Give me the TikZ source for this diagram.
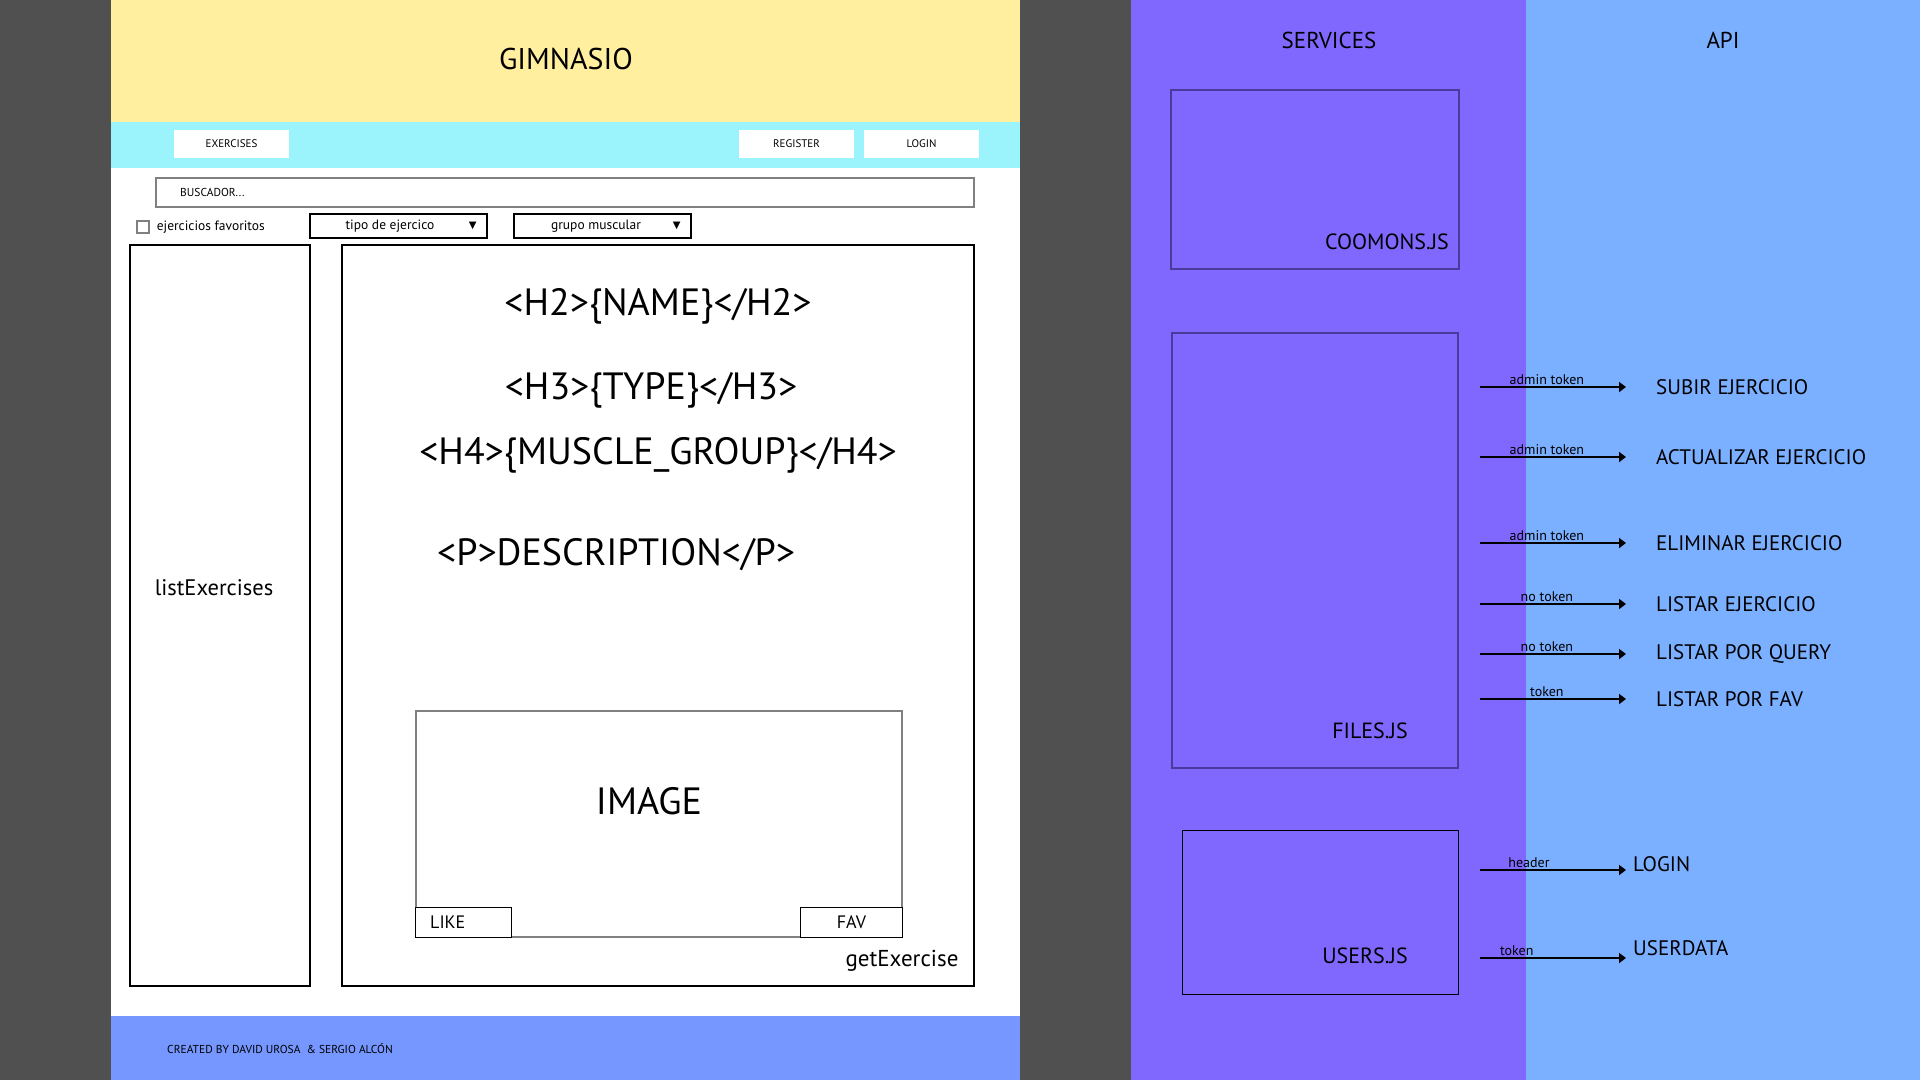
\documentclass[tikz,border=0pt]{standalone}
\usepackage{fontspec}
\setmainfont{PT Sans}
\newfontfamily\symfont{DejaVu Sans}
\usetikzlibrary{arrows.meta,positioning}
\definecolor{bggray}{HTML}{505050}
\definecolor{headyellow}{HTML}{FFEF9E}
\definecolor{navcyan}{HTML}{9BF4FC}
\definecolor{footblue}{HTML}{7597FF}
\definecolor{servpurple}{HTML}{8068FF}
\definecolor{apiblue}{HTML}{7BAFFF}
\definecolor{boxpurple}{HTML}{4A3A9C}
\tikzset{
  navbtn/.style={fill=white,minimum width=115pt,minimum height=28pt,inner sep=0pt,font=\fontsize{11}{13}\selectfont},
  frame/.style={draw=black,line width=1.2pt,inner sep=0pt},
  drop/.style={draw=black,line width=1.2pt,minimum width=177pt,minimum height=24pt,inner sep=0pt},
  small/.style={font=\fontsize{13.5}{16}\selectfont,inner sep=0pt},
  big/.style={font=\fontsize{38}{44}\selectfont},
  servbox/.style={draw=boxpurple,line width=1.2pt,inner sep=0pt},
  filename/.style={font=\fontsize{22}{26}\selectfont},
  apilabel/.style={anchor=west,font=\fontsize{21}{25}\selectfont,inner sep=0pt},
  tok/.style={font=\fontsize{14}{16}\selectfont,inner sep=1pt},
  flow/.style={-{Triangle[length=7pt,width=10pt]},line width=2pt},
}
\begin{document}
\begin{tikzpicture}[x=1pt,y=-1pt]
\useasboundingbox (0,0) rectangle (1920,1080);
\fill[bggray] (0,0) rectangle (1920,1080);
\fill[white] (111,0) rectangle (1020,1080);
\fill[headyellow] (111,0) rectangle (1020,122);
\fill[navcyan] (111,122) rectangle (1020,168);
\fill[footblue] (111,1016) rectangle (1020,1080);
\fill[servpurple] (1131,0) rectangle (1526,1080);
\fill[apiblue] (1526,0) rectangle (1920,1080);

\begin{scope}
\node[font=\fontsize{30}{36}\selectfont] (title) at (566,59) {GIMNASIO};
\foreach \x/\t/\n in {231.5/EXERCISES/exer,796.5/REGISTER/reg,921.5/LOGIN/log}
  \node[navbtn] (\n) at (\x,144) {\t};
\node[draw=gray,line width=2pt,minimum width=818pt,minimum height=29pt,inner sep=0pt] (search) at (565,192.5) {};
\node[anchor=west,font=\fontsize{11.5}{13}\selectfont,inner sep=0pt] (searchtxt) at ([xshift=25pt]search.west) {BUSCADOR...};
\node[draw=gray,line width=1.2pt,minimum size=12pt,inner sep=0pt] (favbox) at (143,227) {};
\node[small,anchor=west] (favtxt) at ([xshift=7pt]favbox.east) {ejercicios favoritos};
\foreach \x/\t/\n/\s in {398.5/tipo de ejercico/tipo/-8.5,602.5/grupo muscular/grupo/-6.5} {
  \node[drop] (\n) at (\x,226) {};
  \node[small] (\n txt) at ([xshift=\s pt]\n.center) {\t};
  \node[font=\symfont\fontsize{10}{12}\selectfont,inner sep=0pt] (\n arr) at ([xshift=-15pt]\n.east) {▼};
}
\node[frame,minimum width=180pt,minimum height=741pt] (list) at (220,615.5) {};
\node[font=\fontsize{22.5}{26}\selectfont] (listtxt) at (214,588) {listExercises};
\node[frame,minimum width=632pt,minimum height=741pt] (detail) at (658,615.5) {};
\node[big] (hname) at (658,306) {<H2>\{NAME\}</H2>};
\node[big] (htype) at (651,390) {<H3>\{TYPE\}</H3>};
\node[big] (hgroup) at (658,455) {<H4>\{MUSCLE\_GROUP\}</H4>};
\node[big] (hdesc) at (616,555) {<P>DESCRIPTION</P>};
\node[draw=gray,line width=2pt,minimum width=486pt,minimum height=226pt,inner sep=0pt] (img) at (659,824) {};
\node[font=\fontsize{38}{44}\selectfont] (imgtxt) at (649,801) {IMAGE};
\node[frame,fill=white,minimum width=96pt,minimum height=30pt,anchor=south west] (like) at (img.south west) {};
\node[anchor=west,font=\fontsize{18}{21}\selectfont,inner sep=0pt] (liketxt) at ([xshift=15pt]like.west) {LIKE};
\node[frame,fill=white,minimum width=102pt,minimum height=30pt,anchor=south east,font=\fontsize{18}{21}\selectfont] (fav) at (img.south east) {FAV};
\node[font=\fontsize{23}{27}\selectfont] (gettxt) at (902,961) {getExercise};
\node[anchor=west,font=\fontsize{11.5}{13}\selectfont,inner sep=0pt] (credits) at (167,1049) {CREATED BY DAVID UROSA \ \& SERGIO ALCÓN};
\end{scope}

\begin{scope}
\node[font=\fontsize{23}{27}\selectfont] (serv) at (1329,40) {SERVICES};
\node[font=\fontsize{23}{27}\selectfont] (api) at (1723,40) {API};
\node[servbox,minimum width=288pt,minimum height=179pt] (commons) at (1315,179.5) {};
\node[filename] (commonstxt) at (1387,242) {COOMONS.JS};
\node[servbox,minimum width=286pt,minimum height=435pt] (files) at (1315,550.5) {};
\node[filename] (filestxt) at (1370,731) {FILES.JS};
\node[servbox,draw=black,line width=1pt,minimum width=276pt,minimum height=164pt] (users) at (1320,912) {};
\node[filename] (userstxt) at (1365,956) {USERS.JS};
\foreach \i/\y/\tk/\lab in {1/387/admin token/SUBIR EJERCICIO,2/457/admin token/ACTUALIZAR EJERCICIO,3/543/admin token/ELIMINAR EJERCICIO,4/604/no token/LISTAR EJERCICIO,5/654/no token/LISTAR POR QUERY,6/699/token/LISTAR POR FAV} {
  \coordinate (fs\i) at (1480,\y);
  \node[apilabel] (ep\i) at (1656,\y) {\lab};
  \draw[flow,shorten >=30pt] (fs\i) -- node[pos=0.38,above,tok] {\tk} (ep\i.west);
}
\foreach \i/\y/\ly/\tk/\p/\lab in {1/870/864/header/0.32/LOGIN,2/958/948/token/0.24/USERDATA} {
  \coordinate (us\i) at (1480,\y);
  \node[apilabel] (ue\i) at (1633,\ly) {\lab};
  \draw[flow,shorten >=7pt] (us\i) -- node[pos=\p,above,tok] {\tk} (us\i -| ue\i.west);
}
\end{scope}
\end{tikzpicture}
\end{document}
